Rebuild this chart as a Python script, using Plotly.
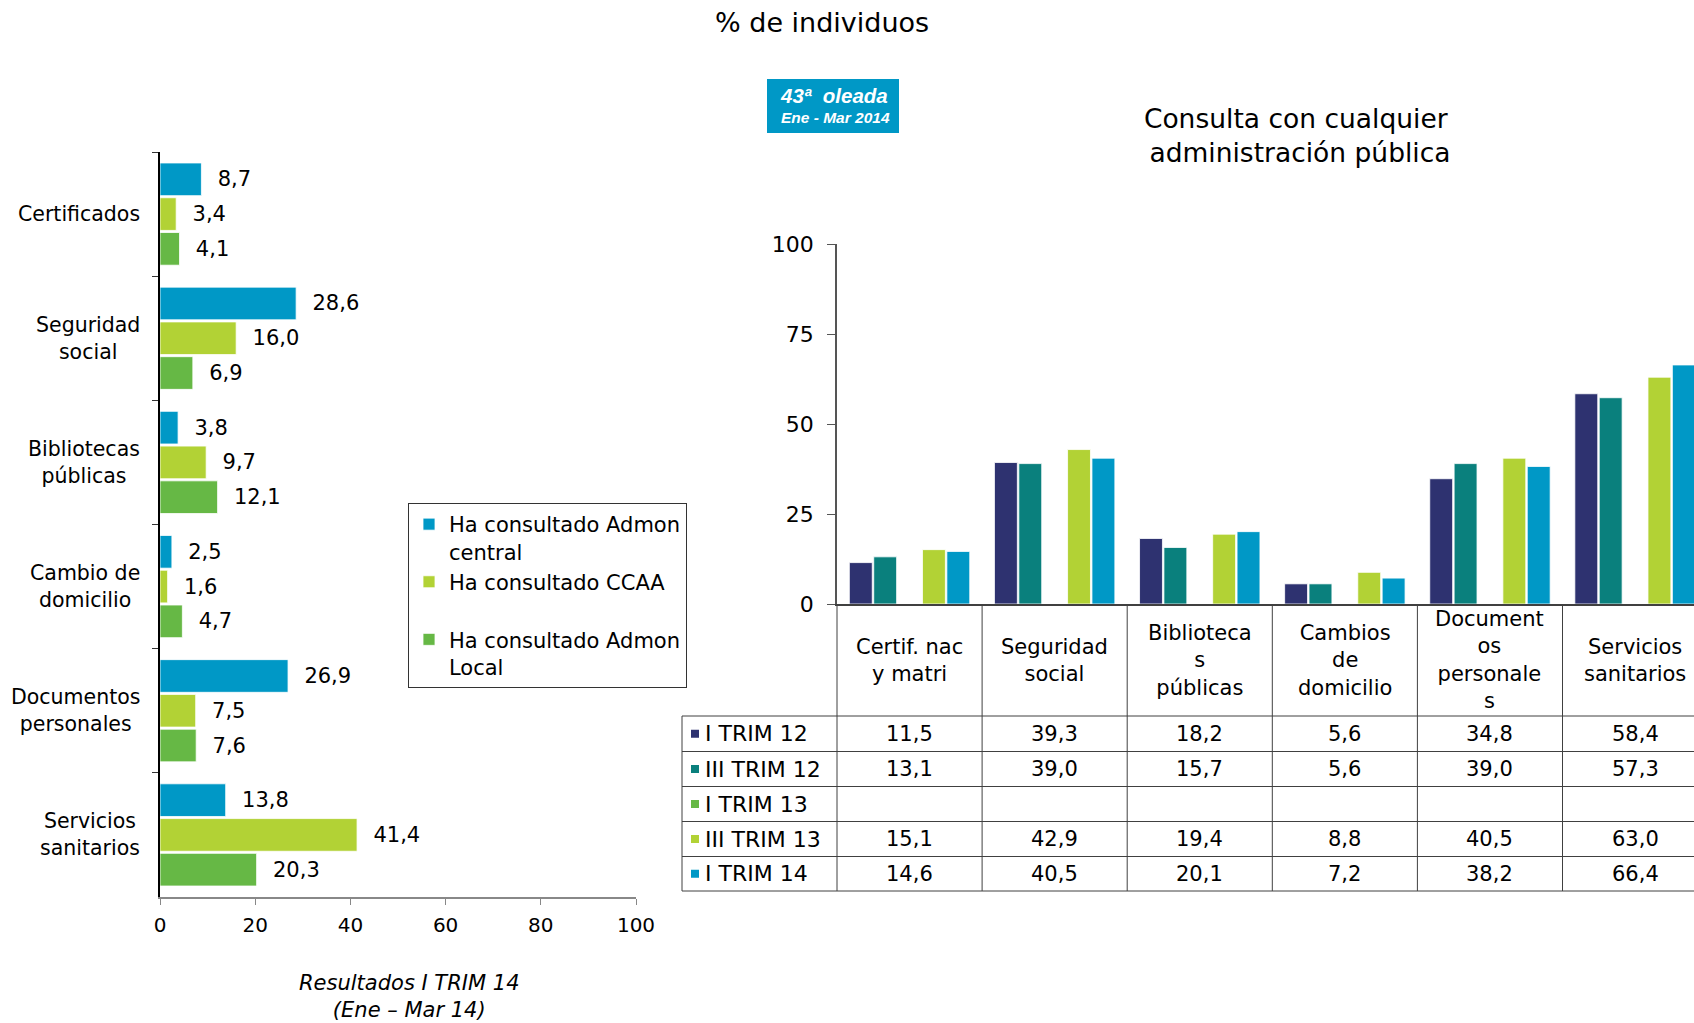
import plotly.graph_objects as go

W, H = 1694, 1023
FONT = "DejaVu Sans"

# ---------------- data: left chart (I TRIM 14) ----------------
left_categories = ["Certificados", "Seguridad<br>social", "Bibliotecas<br>públicas",
                   "Cambio de<br>domicilio", "Documentos<br>personales", "Servicios<br>sanitarios"]
left_series = ["Ha consultado Admon<br>central", "Ha consultado CCAA<br>&nbsp;",
               "Ha consultado Admon<br>Local"]
admon_central = [8.7, 28.6, 3.8, 2.5, 26.9, 13.8]
ccaa = [3.4, 16.0, 9.7, 1.6, 7.5, 41.4]
admon_local = [4.1, 6.9, 12.1, 4.7, 7.6, 20.3]
left_ticks = [0, 20, 40, 60, 80, 100]

# ---------------- data: right chart (any administration) ----------------
right_categories = ["Certif. nac y matri", "Seguridad social", "Bibliotecas públicas",
                    "Cambios de domicilio", "Documentos personales", "Servicios sanitarios"]
right_headers = ["Certif. nac<br>y matri", "Seguridad<br>social", "Biblioteca<br>s<br>públicas",
                 "Cambios<br>de<br>domicilio", "Document<br>os<br>personale<br>s",
                 "Servicios<br>sanitarios"]
periods = ["I TRIM 12", "III TRIM 12", "I TRIM 13", "III TRIM 13", "I TRIM 14"]
i_trim_12 = [11.5, 39.3, 18.2, 5.6, 34.8, 58.4]
iii_trim_12 = [13.1, 39.0, 15.7, 5.6, 39.0, 57.3]
i_trim_13 = [None, None, None, None, None, None]
iii_trim_13 = [15.1, 42.9, 19.4, 8.8, 40.5, 63.0]
i_trim_14 = [14.6, 40.5, 20.1, 7.2, 38.2, 66.4]
right_ticks = [0, 25, 50, 75, 100]

# ---------------- styles ----------------
left_colors = ["#0098C6", "#B2D235", "#66B845"]
period_colors = ["#2E3270", "#0A807D", "#66B845", "#B2D235", "#0098C6"]


def fmt(v):
    return "" if v is None else f"{v:.1f}".replace(".", ",")


def px(x):
    return x / W


def py(y):
    return 1 - y / H


# layout geometry (pixels)
L_LEFT, L_RIGHT, L_TOP, L_BOTTOM = 160, 636, 152, 897
R_LEFT, R_TOP, R_BOTTOM = 837, 244, 604
R_RIGHT = W  # right chart runs off the right edge
CAT_W = 145.1
x2_range = [-0.5, -0.5 + (R_RIGHT - R_LEFT) / CAT_W]
TABLE_LEFT = 682
row_lines = [716, 751.5, 786.5, 821.5, 856.5, 891]

fig = go.Figure()

for name, vals, col in zip(left_series, [admon_central, ccaa, admon_local], left_colors):
    fig.add_trace(go.Bar(
        y=left_categories, x=vals, orientation="h", name=name,
        marker=dict(color=col, line=dict(color="white", width=0.8)),
        text=["\u00a0\u00a0" + fmt(v) for v in vals], textposition="outside",
        textfont=dict(family=FONT, size=21, color="black"),
        cliponaxis=False, constraintext="none",
        xaxis="x", yaxis="y", legendgroup=name,
    ))

right_values = [i_trim_12, iii_trim_12, i_trim_13, iii_trim_13, i_trim_14]
for name, vals, col in zip(periods, right_values, period_colors):
    fig.add_trace(go.Bar(
        x=right_categories, y=vals, name=name,
        marker=dict(color=col, line=dict(color="white", width=0.8)),
        xaxis="x2", yaxis="y2", showlegend=False,
    ))

annotations = []
shapes = []

# left category labels (centered lines, right-aligned block)
for cat in left_categories:
    annotations.append(dict(x=px(142), xref="paper", y=cat, yref="y", text=cat,
                            xanchor="right", yanchor="middle", align="center",
                            showarrow=False, font=dict(family=FONT, size=20.5, color="black")))

# titles
annotations.append(dict(x=px(822), y=py(23), xref="paper", yref="paper", text="% de individuos",
                        showarrow=False, xanchor="center", yanchor="middle",
                        font=dict(family=FONT, size=27, color="black")))
annotations.append(dict(x=px(1296), y=py(135), xref="paper", yref="paper",
                        text="Consulta con cualquier<br>\u00a0administración pública",
                        showarrow=False, xanchor="center", yanchor="middle", align="center",
                        font=dict(family=FONT, size=26.5, color="black")))
annotations.append(dict(x=px(409.5), y=py(996), xref="paper", yref="paper",
                        text="<i>Resultados I TRIM 14<br>(Ene – Mar 14)</i>",
                        showarrow=False, xanchor="center", yanchor="middle", align="center",
                        font=dict(family=FONT, size=21, color="black")))

# badge
shapes.append(dict(type="rect", xref="paper", yref="paper", x0=px(767), x1=px(899),
                   y0=py(133), y1=py(79), fillcolor="#0098C6", line=dict(width=0), layer="below"))
annotations.append(dict(x=px(834), y=py(95), xref="paper", yref="paper",
                        text="<b><i>43ª  oleada</i></b>", showarrow=False,
                        xanchor="center", yanchor="middle",
                        font=dict(family="Liberation Sans", size=20.5, color="white")))
annotations.append(dict(x=px(835), y=py(117), xref="paper", yref="paper",
                        text="<b><i>Ene - Mar 2014</i></b>", showarrow=False,
                        xanchor="center", yanchor="middle",
                        font=dict(family="Liberation Sans", size=15.5, color="white")))


# ---------------- data table under the right chart ----------------
def cat_px(c):
    return R_LEFT + (c - x2_range[0]) * CAT_W


line_style = dict(color="#404040", width=1)
for yl in row_lines:
    shapes.append(dict(type="line", xref="paper", yref="paper", x0=px(TABLE_LEFT), x1=1,
                       y0=py(yl), y1=py(yl), line=line_style))
shapes.append(dict(type="line", xref="paper", yref="paper", x0=px(TABLE_LEFT), x1=px(TABLE_LEFT),
                   y0=py(row_lines[0]), y1=py(row_lines[-1]), line=line_style))
for k in range(len(right_categories)):
    xb = cat_px(k - 0.5)
    if xb < R_RIGHT:
        shapes.append(dict(type="line", xref="paper", yref="paper", x0=px(xb), x1=px(xb),
                           y0=py(R_BOTTOM), y1=py(row_lines[-1]), line=line_style))

for k, hdr in enumerate(right_headers):
    annotations.append(dict(x=px(cat_px(k)), y=py((R_BOTTOM + row_lines[0]) / 2),
                            xref="paper", yref="paper", text=hdr, showarrow=False,
                            xanchor="center", yanchor="middle", align="center",
                            font=dict(family=FONT, size=21, color="black")))

for r, (name, vals, col) in enumerate(zip(periods, right_values, period_colors)):
    yc = (row_lines[r] + row_lines[r + 1]) / 2
    shapes.append(dict(type="rect", xref="paper", yref="paper", x0=px(691), x1=px(699),
                       y0=py(yc + 4), y1=py(yc - 4), fillcolor=col, line=dict(width=0)))
    annotations.append(dict(x=px(703), y=py(yc), xref="paper", yref="paper", text=name,
                            showarrow=False, xanchor="left", yanchor="middle",
                            font=dict(family=FONT, size=22, color="black")))
    for k, v in enumerate(vals):
        if v is None:
            continue
        annotations.append(dict(x=px(cat_px(k)), y=py(yc), xref="paper", yref="paper",
                                text=fmt(v), showarrow=False, xanchor="center", yanchor="middle",
                                font=dict(family=FONT, size=21, color="black")))

fig.update_layout(
    template="none",
    width=W, height=H, autosize=False,
    margin=dict(l=0, r=0, t=0, b=0, pad=0, autoexpand=False),
    paper_bgcolor="white", plot_bgcolor="white",
    font=dict(family=FONT, size=21, color="black"),
    barmode="group", bargap=0.16, bargroupgap=0.06,
    showlegend=True,
    legend=dict(x=px(408), y=py(503), xanchor="left", yanchor="top",
                bordercolor="#333333", borderwidth=1, bgcolor="white",
                font=dict(family=FONT, size=21, color="black"),
                valign="top", tracegroupgap=3, traceorder="normal"),
    xaxis=dict(domain=[px(L_LEFT), px(L_RIGHT)], range=[0, 100], tickvals=left_ticks,
               ticks="outside", ticklen=6, tickcolor="#888888", showline=True,
               linecolor="#888888", linewidth=1.5, showgrid=False, zeroline=False,
               automargin=False, ticklabelstandoff=3,
               tickfont=dict(family=FONT, size=20, color="black"), anchor="y"),
    yaxis=dict(domain=[py(L_BOTTOM), py(L_TOP)], type="category", range=[5.5, -0.5],
               ticks="outside", tickson="boundaries", ticklen=6, tickcolor="#333333",
               showticklabels=False, showline=True, linecolor="black", linewidth=1.5,
               showgrid=False, zeroline=False, anchor="x", automargin=False),
    xaxis2=dict(domain=[px(R_LEFT), 1], range=x2_range, type="category",
                showticklabels=False, ticks="", showline=True, linecolor="#404040",
                linewidth=2, showgrid=False, zeroline=False, anchor="y2", automargin=False),
    yaxis2=dict(domain=[py(R_BOTTOM), py(R_TOP)], range=[0, 100], tickvals=right_ticks,
                ticks="outside", ticklen=8, tickcolor="#555555", showline=True,
                linecolor="#555555", linewidth=1.5, showgrid=False, zeroline=False,
                ticklabelstandoff=9, automargin=False,
                tickfont=dict(family=FONT, size=22, color="black"), anchor="x2"),
    annotations=annotations,
    shapes=shapes,
)

# page without the browser's default 8px body margin, so the figure fills the window
fig.write_html("out.html", config={"displayModeBar": False},
               post_script="document.body.style.margin='0';document.body.style.overflow='hidden';")
